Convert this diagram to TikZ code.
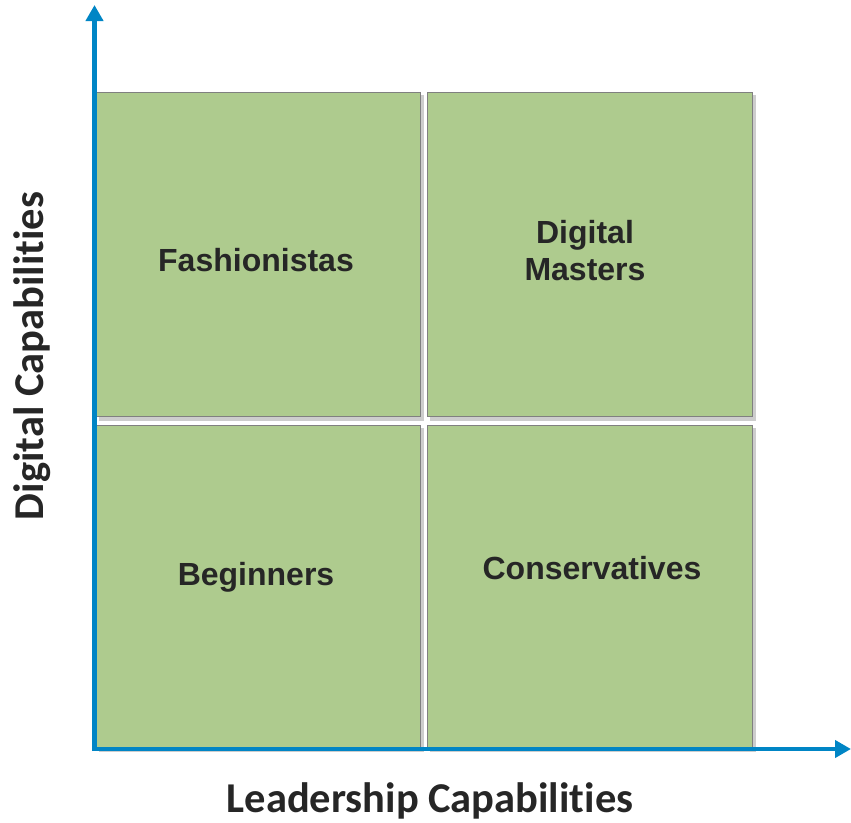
\documentclass[tikz,border=0pt]{standalone}
\usepackage{fontspec}
\setmainfont{Liberation Sans}
\newfontfamily\calfont[Ligatures=NoCommon]{Carlito}
\usetikzlibrary{arrows.meta}
\definecolor{boxgreen}{RGB}{174,203,142}
\definecolor{boxline}{RGB}{128,128,128}
\definecolor{axisblue}{RGB}{0,133,197}
\definecolor{txt}{RGB}{38,38,38}
\definecolor{shadowgray}{RGB}{205,205,205}
\begin{document}
\begin{tikzpicture}[x=1pt,y=-1pt,
  quad/.style={draw=boxline, line width=1.3pt, fill=boxgreen, minimum width=324pt, minimum height=324pt, inner sep=0pt, anchor=north west},
  qlabel/.style={font=\bfseries\fontsize{32}{37}\selectfont, text=txt, align=center},
  shad/.style={fill=shadowgray, draw=none},
  axis/.style={draw=axisblue, line width=4.5pt, -{Triangle[length=16pt,width=17pt]}},
  axlabel/.style={font=\calfont\bfseries\fontsize{42.5}{46}\selectfont, text=txt}]
\useasboundingbox (0,0) rectangle (851,822);
% shadows
\fill[shad] (99,95) rectangle (424,421);
\fill[shad] (430,95) rectangle (756,421);
\fill[shad] (99,428) rectangle (424,752);
\fill[shad] (430,428) rectangle (756,752);
% quadrants
\node[quad] (tl) at (96,92) {};
\node[quad, minimum width=325pt] (tr) at (427,92) {};
\node[quad] (bl) at (96,425) {};
\node[quad, minimum width=325pt] (br) at (427,425) {};
% labels
\node[qlabel] (lf) at (256,260) {Fashionistas};
\node[qlabel] (ld) at (585,251) {Digital\\Masters};
\node[qlabel] (lb) at (256,577) {Beginners};
\node[qlabel] (lc) at (592,568) {Conservatives};
% axes
\coordinate (origin) at (94.5,751);
\coordinate (ytip) at (94.5,5);
\coordinate (xorigin) at (92,749);
\coordinate (xtip) at (851,749);
\draw[axis] (origin) -- (ytip);
\draw[axis] (xorigin) -- (xtip);
\node[axlabel] (xl) at (430,801) {Leadership Capabilities};
\node[axlabel, rotate=90] (yl) at (32,356) {Digital Capabilities};
\end{tikzpicture}
\end{document}
